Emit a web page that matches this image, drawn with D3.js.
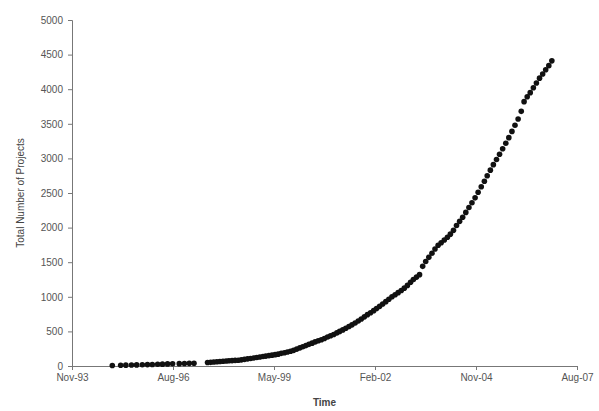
<!DOCTYPE html>
<html>
<head>
<meta charset="utf-8">
<script src="https://cdn.jsdelivr.net/npm/d3@7"></script>
<style>
  body { margin: 0; background: #fff; }
  svg { display: block; }
</style>
</head>
<body>
<div id="chart"></div>
<script>
// early, sparse observations (date, total projects)
const earlyDates = ["1995-01-01", "1995-03-25", "1995-05-15", "1995-07-10", "1995-08-30", "1995-10-25",
  "1995-12-15", "1996-02-01", "1996-03-25", "1996-05-12", "1996-07-01", "1996-08-20",
  "1996-10-25", "1996-12-15", "1997-02-01", "1997-03-20"];
const earlyValues = [8, 10, 12, 14, 16, 18, 20, 22, 25, 27, 30, 32, 34, 36, 38, 40];

// monthly totals from Aug-97 to Dec-06
const monthlyStart = "1997-08-01";
const monthlyValues = [
  50, 53, 57, 61, 65, 69, 72, 75, 78, 81, 84, 89,
  96, 103, 109, 116, 123, 131, 137, 143, 150, 157, 164, 171,
  183, 192, 202, 213, 226, 244, 262, 278, 295, 313, 330, 348,
  365, 380, 398, 418, 438, 455, 478, 500, 522, 545, 570, 595,
  622, 650, 680, 710, 742, 770, 800, 830, 862, 895, 930, 965,
  1000, 1030, 1060, 1090, 1125, 1165, 1210, 1250, 1285, 1320, 1440, 1510,
  1570, 1630, 1690, 1745, 1780, 1820, 1860, 1905, 1960, 2030, 2090, 2150,
  2220, 2290, 2360, 2430, 2510, 2590, 2670, 2750, 2830, 2910, 2985, 3060,
  3140, 3220, 3300, 3390, 3480, 3570, 3680, 3820, 3890, 3950, 4020, 4090,
  4160, 4220, 4280, 4340, 4410
];

const yTicks = [0, 500, 1000, 1500, 2000, 2500, 3000, 3500, 4000, 4500, 5000];
const axisStart = "1993-11-28"; // Excel-style date axis, major unit 1000 days
const tickStepDays = 1000;
const tickCount = 6;

const width = 599, height = 411;
const margin = { top: 20, right: 22, bottom: 45, left: 72 };

const parse = d3.timeParse("%Y-%m-%d");
const x0 = parse(axisStart);
const xTicks = d3.range(tickCount).map(i => d3.timeDay.offset(x0, i * tickStepDays));

const data = earlyDates.map((d, i) => ({ date: parse(d), value: earlyValues[i] }))
  .concat(monthlyValues.map((v, i) => ({ date: d3.timeMonth.offset(parse(monthlyStart), i), value: v })));

const x = d3.scaleTime()
  .domain([xTicks[0], xTicks[xTicks.length - 1]])
  .range([margin.left, width - margin.right]);

const y = d3.scaleLinear()
  .domain([0, 5000])
  .range([height - margin.bottom, margin.top]);

const svg = d3.select("#chart").append("svg")
  .attr("width", width)
  .attr("height", height)
  .attr("font-family", "Arial, 'Liberation Sans', sans-serif");

// y axis
const yAxis = svg.append("g")
  .attr("transform", `translate(${margin.left},0)`)
  .call(d3.axisLeft(y).tickValues(yTicks).tickFormat(d3.format("d")).tickSize(4).tickPadding(5));

// x axis
const xAxis = svg.append("g")
  .attr("transform", `translate(0,${height - margin.bottom})`)
  .call(d3.axisBottom(x).tickValues(xTicks).tickFormat(d3.timeFormat("%b-%y")).tickSize(4).tickPadding(4));

[yAxis, xAxis].forEach(g => {
  g.select(".domain").attr("stroke", "#777");
  g.selectAll(".tick line").attr("stroke", "#777");
  g.selectAll("text").attr("fill", "#555").attr("font-size", 10);
});

// points
svg.append("g")
  .selectAll("circle")
  .data(data)
  .join("circle")
  .attr("cx", d => x(d.date))
  .attr("cy", d => y(d.value))
  .attr("r", 2.8)
  .attr("fill", "#111");

// titles
svg.append("text")
  .attr("x", (margin.left + width - margin.right) / 2)
  .attr("y", height - 5)
  .attr("text-anchor", "middle")
  .attr("font-size", 10)
  .attr("font-weight", "bold")
  .attr("fill", "#444")
  .text("Time");

svg.append("text")
  .attr("transform", `translate(24,${(margin.top + height - margin.bottom) / 2}) rotate(-90)`)
  .attr("text-anchor", "middle")
  .attr("font-size", 10)
  .attr("fill", "#444")
  .text("Total Number of Projects");
</script>
</body>
</html>
